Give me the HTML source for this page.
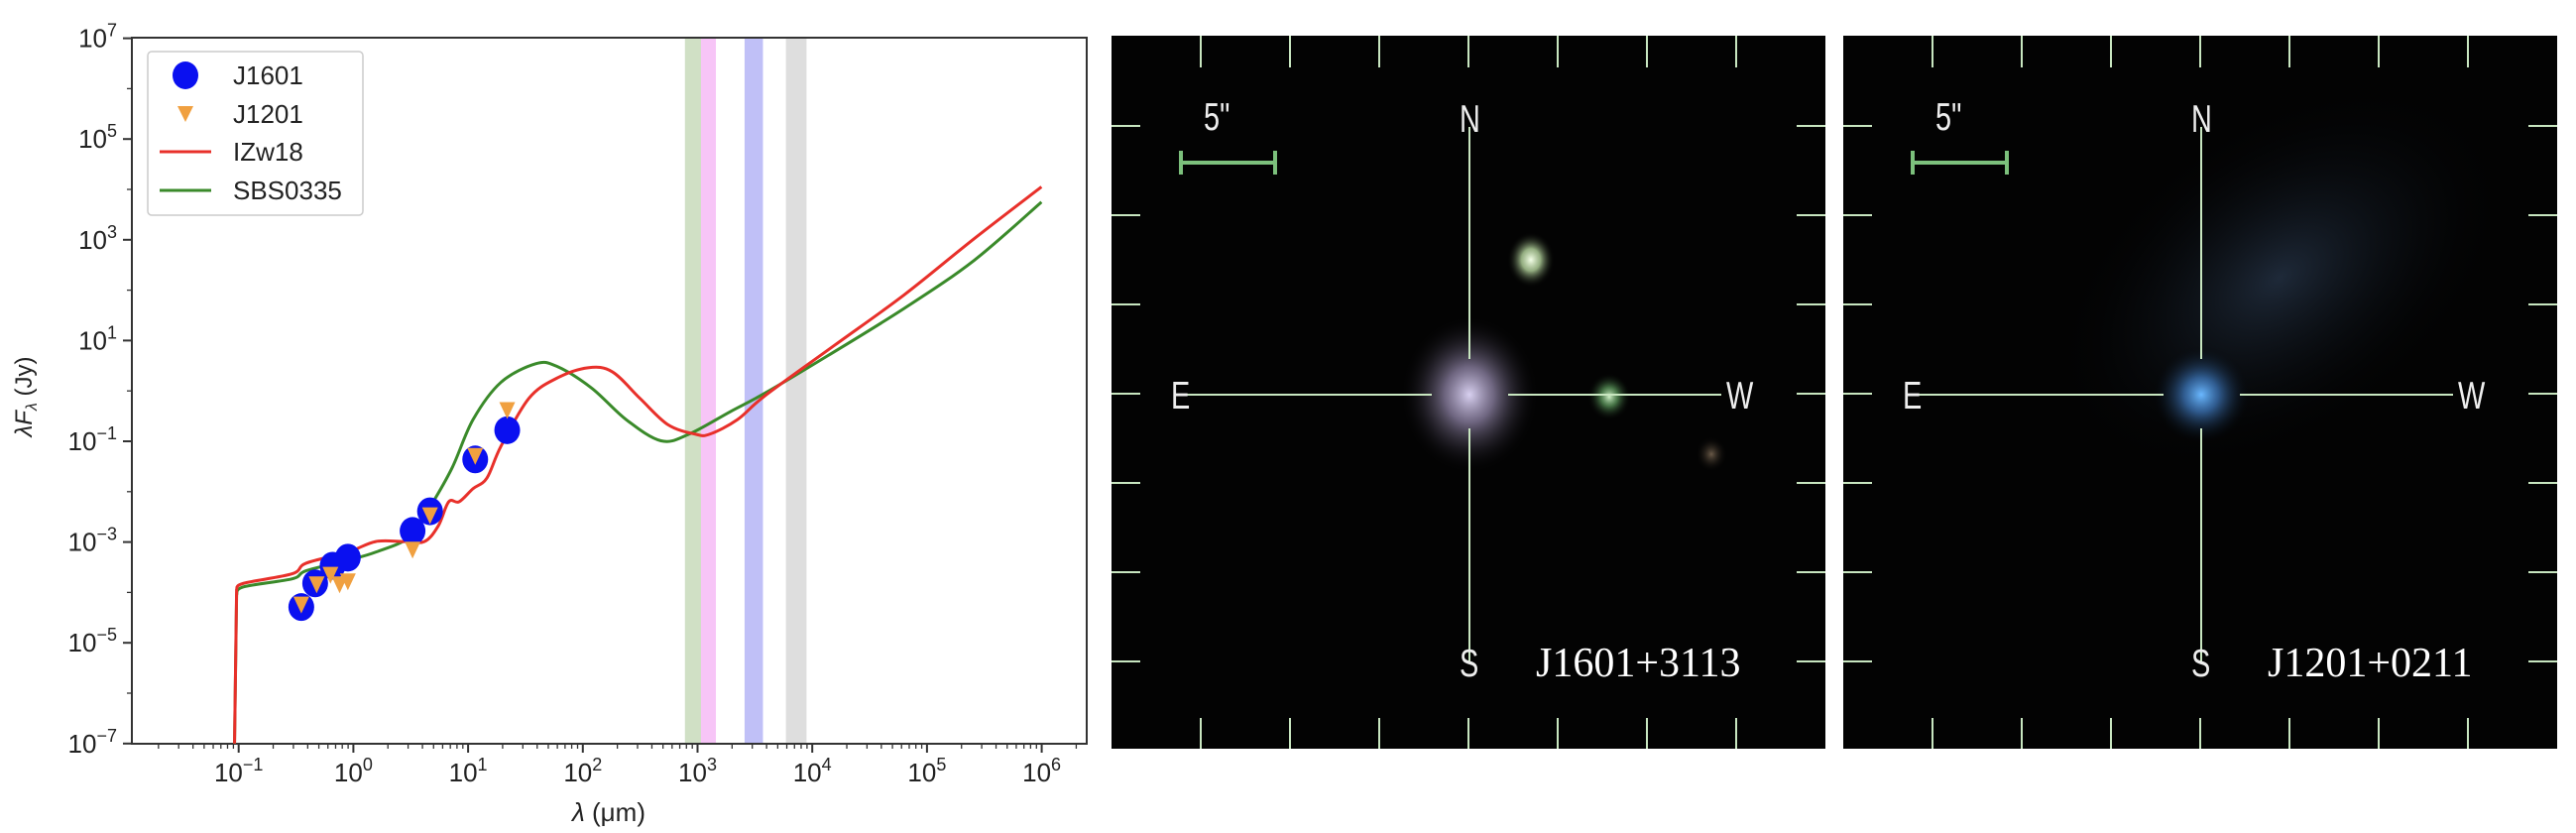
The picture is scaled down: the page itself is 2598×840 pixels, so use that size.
<!DOCTYPE html>
<html><head><meta charset="utf-8"><style>
body{margin:0;background:#fff;}
svg{display:block;font-family:"Liberation Sans",sans-serif;}
</style></head><body>
<svg id="s" width="2598" height="840" viewBox="0 0 2598 840">
<defs>
<radialGradient id="gal1"><stop offset="0" stop-color="#d8d0f0"/><stop offset="0.35" stop-color="#8a7fa0" stop-opacity="0.8"/><stop offset="1" stop-color="#000" stop-opacity="0"/></radialGradient>
<radialGradient id="st1"><stop offset="0" stop-color="#f4ffe8"/><stop offset="0.4" stop-color="#b8d8a0" stop-opacity="0.8"/><stop offset="1" stop-color="#000" stop-opacity="0"/></radialGradient>
<radialGradient id="st2"><stop offset="0" stop-color="#d0f0c8"/><stop offset="0.4" stop-color="#60a060" stop-opacity="0.7"/><stop offset="1" stop-color="#000" stop-opacity="0"/></radialGradient>
<radialGradient id="st3"><stop offset="0" stop-color="#6a5a48"/><stop offset="1" stop-color="#000" stop-opacity="0"/></radialGradient>
<radialGradient id="gal2"><stop offset="0" stop-color="#6ab8ff"/><stop offset="0.35" stop-color="#3a70b0" stop-opacity="0.8"/><stop offset="1" stop-color="#000" stop-opacity="0"/></radialGradient>
<radialGradient id="haze"><stop offset="0" stop-color="#2a3a50" stop-opacity="0.7"/><stop offset="1" stop-color="#000" stop-opacity="0"/></radialGradient>
</defs>
<g id="chart"></g>
<g id="panels"></g>
</svg>
<script>
const NS='http://www.w3.org/2000/svg';
// ---- data (log10 values) ----
const j1601LogLam=[-0.454,-0.333,-0.181,-0.048,0.516,0.668,1.062,1.341];
const j1601LogF=[-4.29,-3.82,-3.47,-3.31,-2.78,-2.39,-1.36,-0.78];
const j1201LogLam=[-0.454,-0.32,-0.2,-0.12,-0.048,0.516,0.668,1.062,1.341];
const j1201LogF=[-4.24,-3.84,-3.65,-3.84,-3.78,-3.15,-2.47,-1.29,-0.38];
const izwLogLam=[-1.036,-1.018,-0.958,-0.533,-0.412,-0.048,0.195,0.437,0.619,0.740,0.831,0.922,1.043,1.164,1.286,1.529,1.771,2.044,2.257,2.499,2.742,2.984,3.105,3.348,3.591,4.197,4.803,5.410,5.998];
const izwLogF=[-7.0,-3.94,-3.82,-3.63,-3.42,-3.20,-2.99,-2.99,-2.99,-2.68,-2.20,-2.20,-1.94,-1.73,-1.10,-0.15,0.25,0.46,0.38,-0.15,-0.67,-0.86,-0.86,-0.57,-0.09,0.91,1.91,3.02,4.05];
const sbsLogLam=[-1.036,-1.018,-0.958,-0.533,-0.412,-0.048,0.195,0.498,0.680,0.862,1.043,1.286,1.589,1.771,2.075,2.378,2.681,2.924,3.287,3.591,4.136,4.803,5.410,5.998];
const sbsLogF=[-7.0,-4.05,-3.89,-3.73,-3.57,-3.36,-3.20,-2.89,-2.26,-1.52,-0.57,0.17,0.54,0.49,0.06,-0.57,-0.99,-0.86,-0.41,-0.04,0.70,1.64,2.59,3.75];
const xTickExp=[-1,0,1,2,3,4,5,6];
const yTickExp=[-7,-5,-3,-1,1,3,5,7];
const bandLo=[2.89,3.03,3.41,3.77];
const bandHi=[3.03,3.16,3.57,3.95];
const bandColors=['rgba(120,165,90,0.35)','rgba(235,110,235,0.4)','rgba(90,90,235,0.38)','rgba(160,160,160,0.35)'];
const bandNames=['band-green','band-pink','band-blue','band-gray'];
// ---- axes ----
const L=133,R=1096,T=38,B=750;
const X=l=>240.7+(l+1)*115.7;
const Y=l=>38.6+(7-l)*50.8;
function mk(tag,attrs,parent){const e=document.createElementNS(NS,tag);for(const k in attrs)e.setAttribute(k,attrs[k]);parent.appendChild(e);return e;}
const c=document.getElementById('chart');
bandLo.forEach((lo,i)=>{const r=mk('rect',{x:X(lo),y:T,width:X(bandHi[i])-X(lo),height:B-T,fill:bandColors[i]},c);

});
const ax=mk('rect',{x:L,y:T,width:R-L,height:B-T,fill:'none',stroke:'#333','stroke-width':2},c);


for(let d=-2;d<=6;d++){for(let k=1;k<10;k++){const l=d+Math.log10(k);const px=X(l);if(px<L||px>R)continue;
mk('line',{x1:px,x2:px,y1:B,y2:B+(k==1?9:5),stroke:'#333','stroke-width':k==1?2:1.3},c);}}
xTickExp.forEach(e=>{const t=mk('text',{x:X(e),y:788,'font-size':26,'text-anchor':'middle',fill:'#222'},c);


t.innerHTML='10<tspan dy="-11" font-size="18">'+(e<0?'\u2212'+(-e):e)+'</tspan>';});
for(let e=-7;e<=7;e++){mk('line',{x1:L-(e%2?9:5),x2:L,y1:Y(e),y2:Y(e),stroke:'#333','stroke-width':e%2?2:1.3},c);}
yTickExp.forEach(e=>{const t=mk('text',{x:118,y:Y(e)+9,'font-size':26,'text-anchor':'end',fill:'#222'},c);


t.innerHTML='10<tspan dy="-11" font-size="18">'+(e<0?'\u2212'+(-e):e)+'</tspan>';});
const xl=mk('text',{x:614,y:828,'font-size':26,'text-anchor':'middle',fill:'#222'},c);


xl.innerHTML='<tspan font-style="italic">λ</tspan> (μm)';
const yl=mk('text',{x:0,y:0,'font-size':24,'text-anchor':'middle',fill:'#222',transform:'translate(32,400) rotate(-90)'},c);


yl.innerHTML='<tspan font-style="italic">λF</tspan><tspan font-size="16" dy="5" font-style="italic">λ</tspan><tspan dy="-5"> (Jy)</tspan>';
function line(lx,ly,col,name){
const p=lx.map((v,i)=>[X(v),Y(ly[i])]);
let d='M'+p[0][0]+','+p[0][1]+' L'+p[1][0]+','+p[1][1];
for(let i=1;i<p.length-1;i++){const p0=p[i-1],p1=p[i],p2=p[i+1],p3=p[Math.min(i+2,p.length-1)];
const a=i==1?p1:p0;
d+=` C${p1[0]+(p2[0]-a[0])/6},${p1[1]+(p2[1]-a[1])/6} ${p2[0]-(p3[0]-p1[0])/6},${p2[1]-(p3[1]-p1[1])/6} ${p2[0]},${p2[1]}`;}
const e=mk('path',{d:d,fill:'none',stroke:col,'stroke-width':3,'stroke-linejoin':'round'},c);

}
line(sbsLogLam,sbsLogF,'#3a8a2a','sbs0335-line');
line(izwLogLam,izwLogF,'#e8302a','izw18-line');
j1601LogLam.forEach((v,i)=>{const m=mk('ellipse',{cx:X(v),cy:Y(j1601LogF[i]),rx:13,ry:14,fill:'#0a10f0'},c);

});
j1201LogLam.forEach((v,i)=>{const x=X(v),y=Y(j1201LogF[i]);const m=mk('polygon',{points:`${x-8},${y-8} ${x+8},${y-8} ${x},${y+9}`,fill:'#f0a040'},c);

});
const lg=mk('g',{},c);


mk('rect',{x:149,y:52,width:217,height:165,rx:4,fill:'#fff',stroke:'#ccc','stroke-width':1.5},lg);
mk('ellipse',{cx:187,cy:76,rx:13,ry:14,fill:'#0a10f0'},lg);
mk('polygon',{points:'179,107 195,107 187,123',fill:'#f0a040'},lg);
mk('line',{x1:161,x2:213,y1:153,y2:153,stroke:'#e8302a','stroke-width':3},lg);
mk('line',{x1:161,x2:213,y1:192,y2:192,stroke:'#3a8a2a','stroke-width':3},lg);
['J1601','J1201','IZw18','SBS0335'].forEach((t,i)=>{const e=mk('text',{x:235,y:[85,124,162,201][i],'font-size':26,fill:'#222'},lg);


e.textContent=t;});
// ---- image panels ----
const P=document.getElementById('panels');
function panel(ox,id,isTwo){
const g=mk('g',{transform:`translate(${ox},0)`},P);


mk('rect',{x:0,y:36,width:720,height:719,fill:'#030303'},g);
const cx=361,cy=398;
if(!isTwo){
mk('ellipse',{cx:cx,cy:cy,rx:70,ry:80,fill:'url(#gal1)'},g);
mk('ellipse',{cx:423,cy:262,rx:24,ry:28,fill:'url(#st1)'},g);
mk('ellipse',{cx:502,cy:400,rx:22,ry:24,fill:'url(#st2)'},g);
mk('ellipse',{cx:605,cy:458,rx:16,ry:18,fill:'url(#st3)'},g);
}else{
mk('ellipse',{cx:440,cy:280,rx:260,ry:160,fill:'url(#haze)',transform:'rotate(-35 440 280)'},g);
mk('ellipse',{cx:cx,cy:cy,rx:50,ry:50,fill:'url(#gal2)'},g);
}
const col='#c8e6c0';
for(let i=1;i<=7;i++){const x=i*90;mk('line',{x1:x,x2:x,y1:36,y2:68,stroke:col,'stroke-width':2},g);mk('line',{x1:x,x2:x,y1:724,y2:755,stroke:col,'stroke-width':2},g);}
for(let i=0;i<7;i++){const y=127+i*90;mk('line',{x1:0,x2:29,y1:y,y2:y,stroke:col,'stroke-width':2},g);mk('line',{x1:691,x2:720,y1:y,y2:y,stroke:col,'stroke-width':2},g);}
mk('line',{x1:75,x2:323,y1:cy,y2:cy,stroke:col,'stroke-width':2},g);
mk('line',{x1:400,x2:615,y1:cy,y2:cy,stroke:col,'stroke-width':2},g);
mk('line',{x1:cx,x2:cx,y1:128,y2:362,stroke:col,'stroke-width':2},g);
mk('line',{x1:cx,x2:cx,y1:432,y2:668,stroke:col,'stroke-width':2},g);
mk('line',{x1:70,x2:165,y1:164,y2:164,stroke:'#7cc07c','stroke-width':4},g);
mk('line',{x1:70,x2:70,y1:152,y2:176,stroke:'#7cc07c','stroke-width':4},g);
mk('line',{x1:165,x2:165,y1:152,y2:176,stroke:'#7cc07c','stroke-width':4},g);
const labs=[['N',351,133],['E',60,412],['W',620,412],['S',351,682],['5"',93,131]];
labs.forEach(l=>{const t=mk('text',{x:l[1],y:l[2],'font-size':34,fill:'#eee',transform:`translate(${l[1]},${l[2]}) scale(0.85,1.15) translate(${-l[1]},${-l[2]})`},g);


t.textContent=l[0];});
const nm=mk('text',{x:428,y:682,'font-size':42,fill:'#fff','font-family':'"Liberation Serif",serif'},g);


nm.textContent=id;
}
panel(1121,'J1601+3113',false);
panel(1859,'J1201+0211',true);
</script>
</body></html>
